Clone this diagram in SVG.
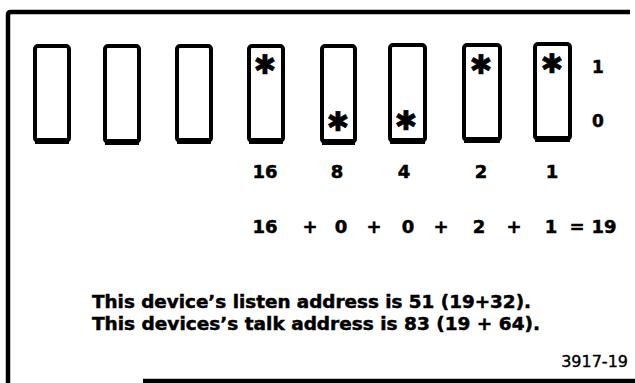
<svg xmlns="http://www.w3.org/2000/svg" width="635" height="383" viewBox="0 0 635 383">
<style>
.frame{fill:none;stroke:#000;stroke-width:4.5}
.sw{fill:#fff;stroke:#000;stroke-width:4}
.sb{fill:none;stroke:#000;stroke-width:6}
.ast{font-family:"DejaVu Sans",sans-serif;font-size:27px;fill:#000;stroke:#000;stroke-width:0.6;text-anchor:middle}
.num{font-family:"DejaVu Sans",sans-serif;font-weight:bold;font-size:18px;fill:#000;stroke:#000;stroke-width:0.5;text-anchor:middle}
.lbl{font-family:"DejaVu Sans",sans-serif;font-weight:bold;font-size:17px;fill:#000;stroke:#000;stroke-width:0.5;text-anchor:middle}
.txt{font-family:"DejaVu Sans",sans-serif;font-weight:bold;font-size:18px;fill:#000;stroke:#000;stroke-width:0.5}
.fig{font-family:"DejaVu Sans",sans-serif;font-size:16px;fill:#000;stroke:#000;stroke-width:0.4;text-anchor:end}
</style>
<rect width="635" height="383" fill="#fff"/>
<g id="frame">
<path class="frame" d="M8,383 V15 Q8,12 11,12 H630"/>
<path class="frame" d="M143,381 H635" stroke-width="3.5"/>
</g>
<g id="switch1"><rect class="sw" x="35" y="46" width="34" height="95" rx="3"/><path class="sb" d="M35,141 H69"/></g>
<g id="switch2"><rect class="sw" x="105" y="46" width="34" height="96" rx="3"/><path class="sb" d="M105,142 H139"/></g>
<g id="switch3"><rect class="sw" x="177" y="46" width="34" height="95" rx="3"/><path class="sb" d="M177,141 H211"/></g>
<g id="switch4"><rect class="sw" x="249" y="46" width="34" height="95" rx="3"/><path class="sb" d="M249,141 H283"/><text class="ast" x="265" y="74">✱</text></g>
<g id="switch5"><rect class="sw" x="322" y="46" width="33" height="96" rx="3"/><path class="sb" d="M322,142 H355"/><text class="ast" x="338" y="131">✱</text></g>
<g id="switch6"><rect class="sw" x="390" y="45" width="35" height="96" rx="3"/><path class="sb" d="M390,141 H425"/><text class="ast" x="406" y="130">✱</text></g>
<g id="switch7"><rect class="sw" x="464" y="45" width="36" height="95" rx="3"/><path class="sb" d="M464,140 H500"/><text class="ast" x="481" y="74">✱</text></g>
<g id="switch8"><rect class="sw" x="535" y="44" width="35" height="95" rx="3"/><path class="sb" d="M535,139 H570"/><text class="ast" x="552" y="73">✱</text></g>
<g id="states">
<text class="lbl" x="598" y="73">1</text>
<text class="lbl" x="598" y="127">0</text>
</g>
<g id="weights">
<text class="num" x="265" y="178">16</text>
<text class="num" x="337" y="178">8</text>
<text class="num" x="404" y="178">4</text>
<text class="num" x="481" y="178">2</text>
<text class="num" x="552" y="178">1</text>
</g>
<g id="sum">
<text class="num" x="265" y="233">16</text>
<text class="num" x="310" y="233">+</text>
<text class="num" x="341" y="233">0</text>
<text class="num" x="374" y="233">+</text>
<text class="num" x="408" y="233">0</text>
<text class="num" x="441" y="233">+</text>
<text class="num" x="479" y="233">2</text>
<text class="num" x="514" y="233">+</text>
<text class="num" x="551" y="233">1</text>
<text class="num" x="577" y="233">=</text>
<text class="num" x="604" y="233">19</text>
</g>
<g id="notes">
<text class="txt" x="92" y="308" textLength="439" lengthAdjust="spacingAndGlyphs">This device’s listen address is 51 (19+32).</text>
<text class="txt" x="92" y="330" textLength="448" lengthAdjust="spacingAndGlyphs">This devices’s talk address is 83 (19 + 64).</text>
<text class="fig" x="628" y="367">3917-19</text>
</g>
</svg>
